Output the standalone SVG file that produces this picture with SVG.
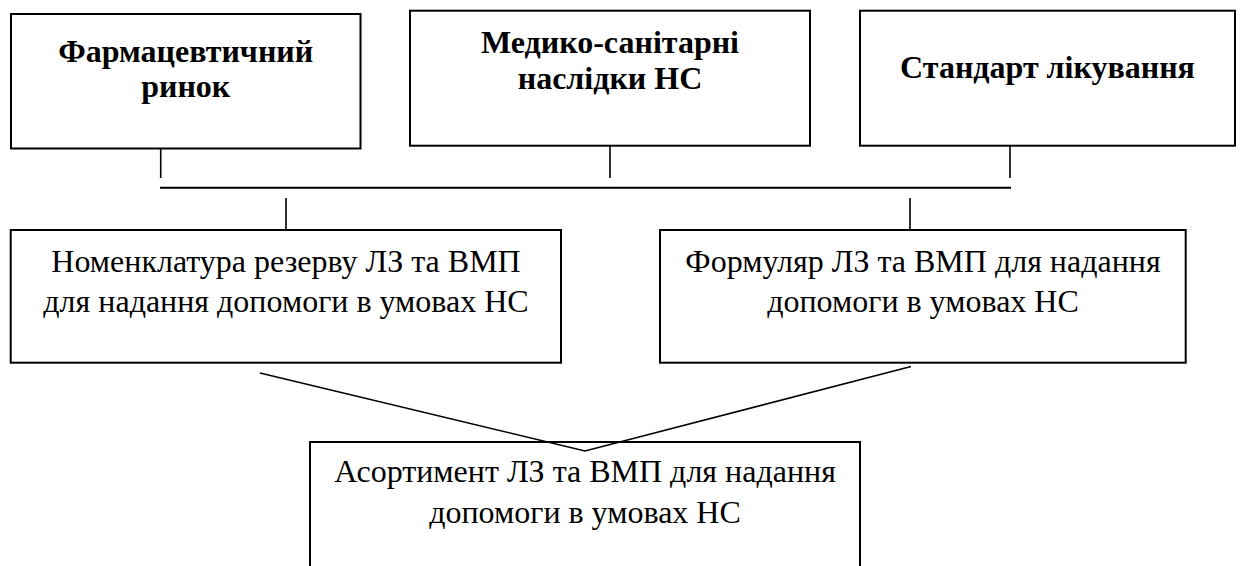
<svg xmlns="http://www.w3.org/2000/svg" width="1240" height="566" viewBox="0 0 1240 566">
<style>
.box{fill:none;stroke:#000;stroke-width:2}
.b{font-family:'Liberation Serif','Times New Roman',serif;font-size:32px;font-weight:bold;text-anchor:middle;fill:#000}
.r{font-family:'Liberation Serif','Times New Roman',serif;font-size:32px;text-anchor:middle;fill:#000}
.c{stroke:#000;stroke-width:1.6;fill:none}
</style>
<rect width="1240" height="566" fill="#fff"/>
<g id="pharma-market">
<rect class="box" x="11" y="14" width="349.5" height="134.5"/>
<text class="b" x="185.7" y="62">Фармацевтичний</text>
<text class="b" x="185.7" y="97">ринок</text>
</g>
<g id="medical-consequences">
<rect class="box" x="410" y="10.7" width="400" height="135"/>
<text class="b" x="610" y="53">Медико-санітарні</text>
<text class="b" x="610" y="89">наслідки НС</text>
</g>
<g id="treatment-standard">
<rect class="box" x="860" y="10.7" width="375" height="135"/>
<text class="b" x="1047.5" y="78">Стандарт лікування</text>
</g>
<g id="reserve-nomenclature">
<rect class="box" x="10.7" y="230" width="550.3" height="132.7"/>
<text class="r" x="286" y="272">Номенклатура резерву ЛЗ та ВМП</text>
<text class="r" x="286" y="312">для надання допомоги в умовах НС</text>
</g>
<g id="formulary">
<rect class="box" x="660" y="230" width="525.7" height="132.7"/>
<text class="r" x="923" y="272">Формуляр ЛЗ та ВМП для надання</text>
<text class="r" x="923" y="312">допомоги в умовах НС</text>
</g>
<g id="assortment">
<rect class="box" x="310" y="442" width="550" height="140"/>
<text class="r" x="585" y="482">Асортимент ЛЗ та ВМП для надання</text>
<text class="r" x="585" y="523">допомоги в умовах НС</text>
</g>
<g id="connectors">
<line class="c" x1="160.7" y1="148" x2="160.7" y2="178"/>
<line class="c" x1="610" y1="146" x2="610" y2="178"/>
<line class="c" x1="1010" y1="146" x2="1010" y2="178"/>
<line class="c" x1="160" y1="187.7" x2="1011" y2="187.7" style="stroke-width:2"/>
<line class="c" x1="286" y1="198" x2="286" y2="230"/>
<line class="c" x1="910" y1="198" x2="910" y2="230"/>
<polyline class="c" points="260,373 585,451 911,366.5"/>
</g>
</svg>
